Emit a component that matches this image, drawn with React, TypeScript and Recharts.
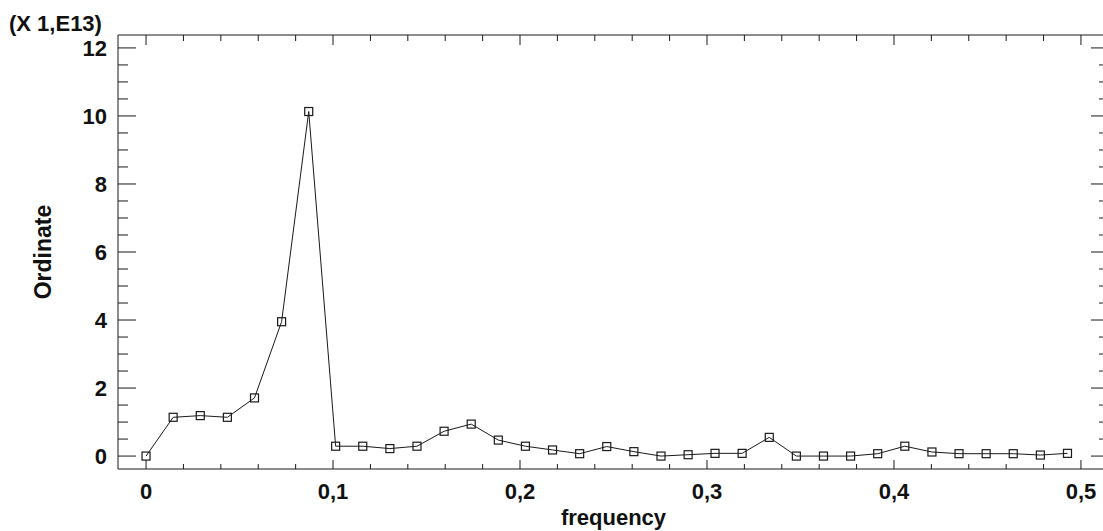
import React from "react"
import { LineChart, Line, XAxis, YAxis } from "recharts"

// frequency (cycles per sample) and periodogram ordinate in units of 1E13
const frequency = [
 0, 0.0145, 0.029, 0.0435, 0.058, 0.0725, 0.087, 0.1014, 0.1159, 0.1304,
 0.1449, 0.1594, 0.1739, 0.1884, 0.2029, 0.2174, 0.2319, 0.2464, 0.2609, 0.2754,
 0.2899, 0.3043, 0.3188, 0.3333, 0.3478, 0.3623, 0.3768, 0.3913, 0.4058, 0.4203,
 0.4348, 0.4493, 0.4638, 0.4783, 0.4928
]
const ordinate = [
 0, 1.14, 1.19, 1.14, 1.71, 3.95, 10.13, 0.29, 0.29, 0.22,
 0.29, 0.73, 0.94, 0.47, 0.29, 0.18, 0.07, 0.28, 0.13, 0.0,
 0.04, 0.08, 0.08, 0.55, 0.0, 0.0, 0.0, 0.07, 0.29, 0.12,
 0.07, 0.07, 0.07, 0.03, 0.08
]

const xTicks = [
 0, 0.02, 0.04, 0.06, 0.08, 0.1, 0.12, 0.14, 0.16, 0.18, 0.2, 0.22, 0.24,
 0.26, 0.28, 0.3, 0.32, 0.34, 0.36, 0.38, 0.4, 0.42, 0.44, 0.46, 0.48, 0.5
]
const yTicks = [
 0, 0.5, 1, 1.5, 2, 2.5, 3, 3.5, 4, 4.5, 5, 5.5, 6, 6.5, 7, 7.5, 8, 8.5,
 9, 9.5, 10, 10.5, 11, 11.5, 12
]

const scaleNote = "(X 1,E13)"
const xTitle = "frequency"
const yTitle = "Ordinate"

const data = frequency.map((f, i) => ({ f, v: ordinate[i] }))

const FONT = "'Liberation Sans', Arial, sans-serif"
const INK = "#1a1a1a"

const isMajorX = (v: number) => Math.abs(v * 10 - Math.round(v * 10)) < 1e-6
const isMajorY = (v: number) => Math.abs(v / 2 - Math.round(v / 2)) < 1e-6
const fmt = (v: number) => String(Math.round(v * 10) / 10).replace(".", ",")

type Side = "left" | "right" | "top" | "bottom"

function makeTick(side: Side) {
 return (props: any) => {
  const { x, y, payload } = props
  const v = payload.value as number
  const horiz = side === "top" || side === "bottom"
  const major = horiz ? isMajorX(v) : isMajorY(v)
  let len = 0
  if (side === "left" || side === "right") len = major ? 18 : 10
  if (side === "top") len = major ? 10 : 6
  if (side === "bottom") len = major ? 9 : 5
  let line
  if (side === "left") line = <line x1={x} y1={y} x2={x + len} y2={y} stroke={INK} />
  else if (side === "right") line = <line x1={x} y1={y} x2={x - len} y2={y} stroke={INK} />
  else if (side === "top") line = <line x1={x} y1={y} x2={x} y2={y + len} stroke={INK} />
  else line = <line x1={x} y1={y} x2={x} y2={y - len} stroke={INK} />

  let label = null
  if (major && side === "left") {
   label = (
    <text x={x - 11} y={y} dy="0.36em" textAnchor="end" fontSize={22} fontWeight="bold" fontFamily={FONT} fill="#111">
     {fmt(v)}
    </text>
   )
  }
  if (major && side === "bottom") {
   label = (
    <text x={x} y={y + 30} textAnchor="middle" fontSize={22} fontWeight="bold" fontFamily={FONT} fill="#111">
     {fmt(v)}
    </text>
   )
  }
  return (
   <g>
    {line}
    {label}
   </g>
  )
 }
}

const Square = (props: any) => {
 const { cx, cy } = props
 if (cx == null || cy == null) return <g />
 return <rect x={cx - 4} y={cy - 4} width={8} height={8} fill="none" stroke={INK} strokeWidth={1.2} />
}

export default function App() {
 return (
  <div style={{ position: "absolute", left: 0, top: 0, width: 1103, height: 531, overflow: "hidden", background: "#fff" }}>
   <div
    style={{
     position: "absolute",
     left: 9,
     top: 13,
     fontFamily: FONT,
     fontWeight: "bold",
     fontSize: 22,
     lineHeight: "22px",
     color: "#111",
     whiteSpace: "nowrap"
    }}
   >
    {scaleNote}
   </div>

   <LineChart width={1115} height={531} data={data} margin={{ top: 34, right: 5, bottom: 0, left: 0 }}>
    <XAxis
     xAxisId="b"
     dataKey="f"
     type="number"
     domain={[-0.015, 0.515]}
     allowDataOverflow
     ticks={xTicks}
     interval={0}
     height={62}
     tickSize={0}
     tickMargin={0}
     tickLine={false}
     axisLine={{ stroke: INK }}
     tick={makeTick("bottom")}
     label={{
      value: xTitle,
      position: "insideBottom",
      offset: 6,
      style: { fontFamily: FONT, fontWeight: "bold", fontSize: 22, fill: "#111" }
     }}
    />
    <XAxis
     xAxisId="t"
     orientation="top"
     dataKey="f"
     type="number"
     domain={[-0.015, 0.515]}
     allowDataOverflow
     ticks={xTicks}
     interval={0}
     height={1}
     tickSize={0}
     tickMargin={0}
     tickLine={false}
     axisLine={{ stroke: INK }}
     tick={makeTick("top")}
    />
    <YAxis
     yAxisId="l"
     type="number"
     domain={[-0.38, 12.38]}
     allowDataOverflow
     ticks={yTicks}
     interval={0}
     width={118}
     tickSize={0}
     tickMargin={0}
     tickLine={false}
     axisLine={{ stroke: INK }}
     tick={makeTick("left")}
     label={{
      value: yTitle,
      angle: -90,
      position: "insideLeft",
      offset: 43,
      style: { fontFamily: FONT, fontWeight: "bold", fontSize: 23, fill: "#111", textAnchor: "middle" }
     }}
    />
    <YAxis
     yAxisId="r"
     orientation="right"
     type="number"
     domain={[-0.38, 12.38]}
     allowDataOverflow
     ticks={yTicks}
     interval={0}
     width={1}
     tickSize={0}
     tickMargin={0}
     tickLine={false}
     axisLine={{ stroke: INK }}
     tick={makeTick("right")}
    />
    <Line
     xAxisId="b"
     yAxisId="l"
     type="linear"
     dataKey="v"
     stroke={INK}
     strokeWidth={1}
     dot={<Square />}
     activeDot={false}
     isAnimationActive={false}
    />
   </LineChart>
  </div>
 )
}
